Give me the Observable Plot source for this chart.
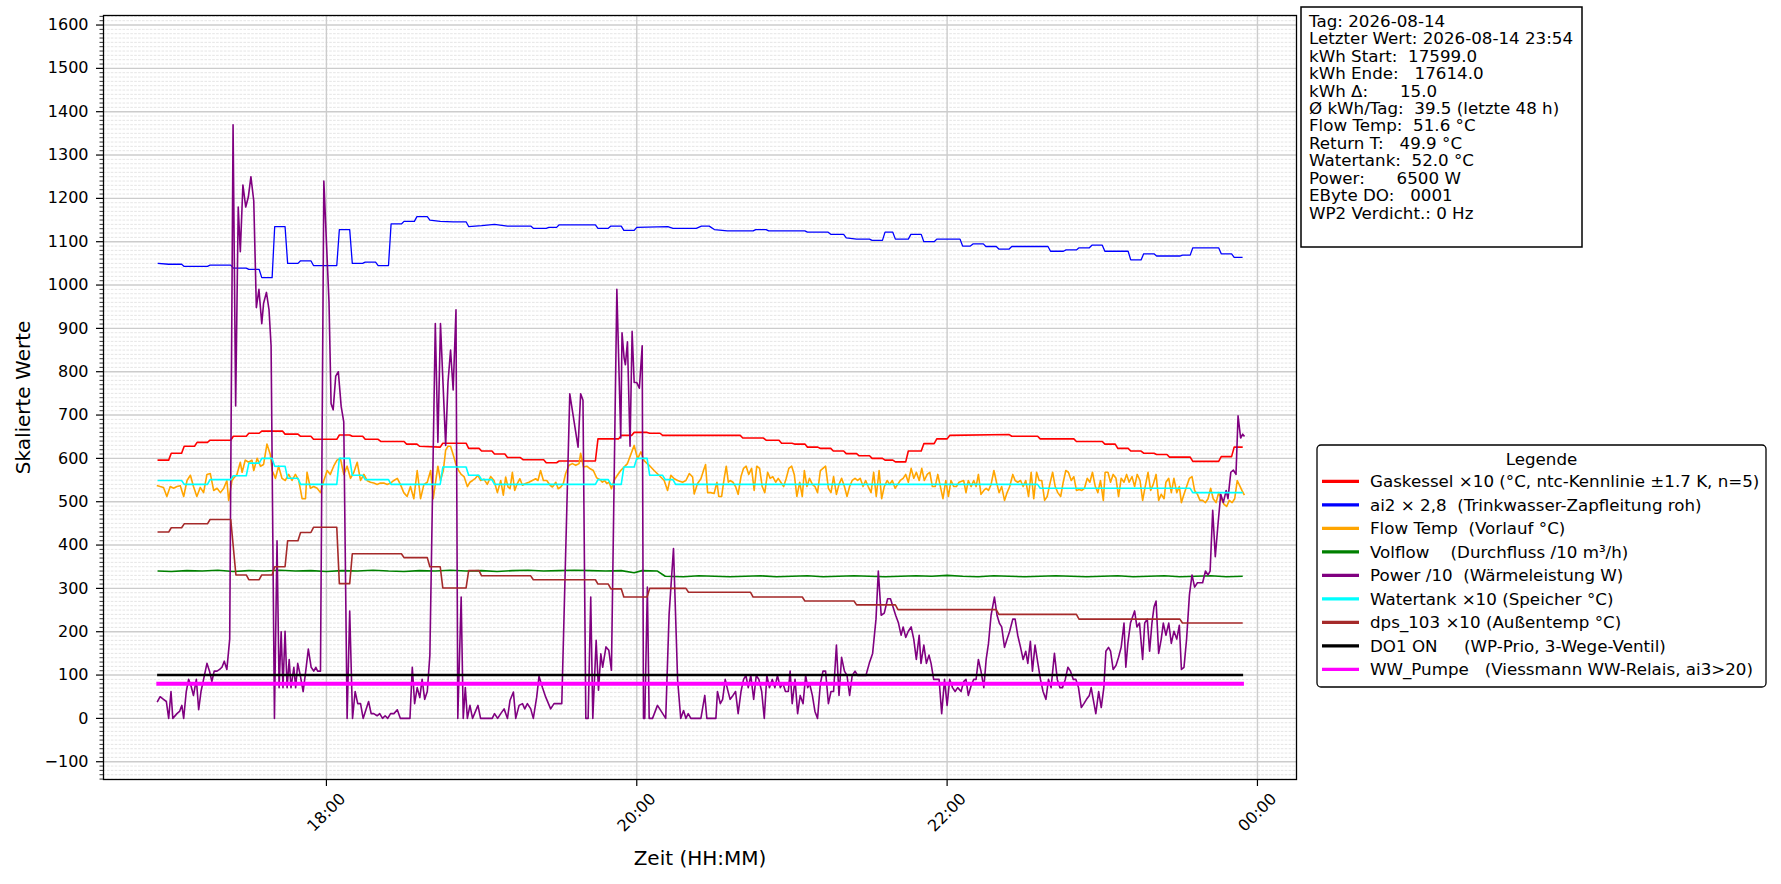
<!DOCTYPE html>
<html><head><meta charset="utf-8">
<script src="https://cdn.jsdelivr.net/npm/d3@7"></script>
<script src="https://cdn.jsdelivr.net/npm/@observablehq/plot@0.6"></script>
<style>
html,body{margin:0;padding:0;background:#fff;overflow:hidden;}
#chart{position:relative;width:1781px;height:884px;}
svg text{white-space:pre;}
</style></head><body><div id="chart"></div>
<script>
// time = minute of day (2026-08-14), value = scaled value
const gaskessel = [[1015,596],[1019,596],[1020,612],[1024,612],[1025,628],[1029,628],[1030,637],[1034,637],[1035,642],[1043,642],[1044,651],[1049,651],[1050,658],[1054,658],[1055,663],[1063,663],[1064,656],[1069,656],[1070,651],[1074,651],[1075,644],[1084,644],[1085,654],[1089,654],[1090,651],[1094,651],[1095,644],[1100,644],[1101,639],[1110,639],[1111,633],[1115,633],[1116,628],[1124,626],[1125,635],[1134,635],[1135,623],[1139,623],[1140,617],[1144,617],[1145,610],[1149,610],[1150,602],[1155,602],[1156,597],[1164,597],[1165,590],[1169,590],[1170,594],[1184,594],[1185,645],[1193,645],[1194,653],[1198,653],[1199,660],[1204,660],[1205,658],[1209,658],[1210,653],[1240,653],[1241,647],[1249,647],[1250,642],[1255,642],[1256,635],[1260,635],[1261,633],[1265,633],[1266,626],[1270,626],[1271,623],[1275,623],[1276,617],[1280,617],[1281,611],[1285,611],[1286,606],[1290,606],[1291,600],[1295,600],[1296,596],[1299,596],[1300,592],[1304,592],[1305,617],[1310,617],[1311,634],[1315,634],[1316,645],[1320,645],[1321,653],[1344,655],[1345,651],[1355,651],[1356,645],[1369,645],[1370,639],[1380,639],[1381,633],[1385,633],[1386,623],[1390,623],[1391,617],[1395,617],[1396,612],[1400,612],[1401,609],[1405,609],[1406,603],[1414,603],[1415,593],[1425,593],[1426,604],[1430,604],[1431,626],[1434,626]];

const ai2 = [[1015,1050],[1019,1048],[1024,1048],[1025,1043],[1034,1043],[1035,1046],[1043,1046],[1044,1039],[1049,1039],[1050,1036],[1054,1036],[1055,1017],[1059,1017],[1060,1135],[1064,1135],[1065,1050],[1069,1050],[1070,1056],[1074,1056],[1075,1045],[1084,1045],[1085,1128],[1089,1128],[1090,1050],[1094,1050],[1095,1053],[1099,1053],[1100,1045],[1104,1045],[1105,1141],[1109,1141],[1110,1147],[1114,1147],[1115,1158],[1119,1158],[1120,1150],[1124,1147],[1129,1146],[1134,1146],[1135,1135],[1140,1137],[1145,1140],[1150,1136],[1159,1136],[1160,1131],[1165,1131],[1166,1133],[1169,1133],[1170,1139],[1184,1139],[1185,1131],[1189,1131],[1190,1136],[1194,1136],[1195,1126],[1199,1126],[1200,1133],[1212,1135],[1214,1131],[1223,1131],[1225,1136],[1228,1136],[1230,1128],[1235,1125],[1245,1125],[1246,1128],[1250,1128],[1251,1125],[1265,1125],[1266,1122],[1274,1122],[1275,1117],[1280,1117],[1281,1109],[1285,1106],[1290,1106],[1291,1103],[1295,1103],[1296,1122],[1299,1122],[1300,1106],[1305,1106],[1306,1117],[1310,1117],[1311,1100],[1315,1100],[1316,1106],[1325,1106],[1326,1090],[1329,1090],[1330,1095],[1334,1095],[1335,1089],[1339,1089],[1340,1083],[1344,1083],[1345,1089],[1359,1089],[1360,1078],[1365,1078],[1366,1081],[1370,1081],[1371,1086],[1375,1086],[1376,1092],[1380,1092],[1381,1078],[1390,1078],[1391,1058],[1395,1058],[1396,1072],[1400,1072],[1401,1067],[1410,1067],[1411,1069],[1414,1069],[1415,1086],[1425,1086],[1426,1072],[1430,1072],[1431,1064],[1434,1064]];

const flowTemp = [[1014.7,537],[1015.7,535],[1017.0,533],[1018.3,512],[1019.6,535],[1020.9,531],[1022.2,535],[1023.5,537],[1024.8,512],[1026.1,549],[1027.4,561],[1028.6,535],[1029.9,512],[1031.2,533],[1032.5,521],[1033.8,563],[1035.1,565],[1036.4,526],[1037.7,531],[1039.0,521],[1040.3,531],[1041.5,549],[1042.2,503],[1043.5,549],[1044.1,554],[1045.4,563],[1046.7,591],[1047.4,568],[1048.6,596],[1049.9,591],[1051.2,596],[1051.9,572],[1053.2,600],[1054.5,582],[1055.7,586],[1057.0,633],[1058.3,609],[1059.0,572],[1060.3,554],[1061.5,582],[1062.8,554],[1064.1,549],[1065.4,563],[1066.7,549],[1068.0,563],[1069.3,549],[1070.6,507],[1071.9,507],[1072.5,568],[1073.8,531],[1075.1,535],[1076.4,531],[1077.7,521],[1079.0,549],[1080.3,572],[1081.5,563],[1082.8,582],[1084.1,596],[1085.4,600],[1086.7,563],[1088.0,582],[1089.3,554],[1090.6,568],[1091.9,591],[1093.2,549],[1094.5,563],[1095.7,549],[1097.0,545],[1098.3,543],[1099.6,540],[1100.9,543],[1102.2,543],[1103.5,540],[1104.8,543],[1106.1,549],[1107.4,554],[1108.6,540],[1109.9,521],[1111.2,512],[1112.5,535],[1113.8,507],[1115.1,572],[1116.4,507],[1117.7,540],[1119.0,545],[1120.3,572],
[1121.3,507],[1122.2,545],[1123.1,582],[1124.1,549],[1125.2,572],[1126.1,619],[1127.0,628],[1128.0,628],[1129.0,609],[1130.1,586],[1131.1,572],[1132.1,563],[1133.2,558],[1134.5,535],[1135.5,545],[1136.5,549],[1137.6,554],[1138.6,561],[1139.6,549],[1140.9,552],[1142.2,540],[1143.5,558],[1144.8,549],[1146.1,521],
[1147.4,549],[1148.4,515],[1149.3,557],[1150.2,534],[1151.0,530],[1151.9,568],[1152.8,526],[1153.8,542],[1154.8,553],[1155.8,538],[1157.0,542],[1158.3,545],[1159.6,549],[1160.9,553],[1161.8,549],[1162.8,572],[1163.9,549],[1165.2,549],[1166.5,538],[1167.4,534],[1168.7,545],[1169.6,530],[1170.6,534],[1171.6,542],[1172.5,565],[1173.8,584],[1175.1,588],[1176.4,584],[1177.7,588],[1178.3,612],[1179.4,580],[1180.7,582],[1182.0,576],[1183.2,572],[1184.5,555],[1185.8,551],[1186.7,545],[1187.6,549],[1188.4,542],[1189.3,545],[1190.2,530],[1191.2,549],[1192.5,561],[1193.8,572],[1196.4,588],[1199.0,630],[1200.3,599],[1201.6,615],[1202.8,595],[1204.8,584],[1206.7,572],[1208.6,561],[1210.6,549],[1211.9,526],[1213.2,561],[1214.5,553],[1215.8,549],[1217.7,545],[1219.0,549],[1220.3,565],[1221.6,557],[1222.2,518],[1223.5,542],[1224.8,553],
[1225.8,572],[1226.6,586],[1227.4,521],[1228.6,521],[1229.9,519],[1231.0,545],[1231.7,512],[1232.8,512],[1233.8,554],[1234.6,582],[1235.4,545],[1236.1,549],[1237.2,545],[1238.2,535],[1239.2,517],[1240.3,558],[1241.3,577],[1242.3,582],[1243.3,563],[1244.4,577],[1245.4,526],[1246.4,582],[1247.5,577],[1248.5,535],[1249.5,521],[1250.6,568],[1251.6,554],[1252.6,558],[1253.7,545],[1254.7,554],[1255.7,545],[1256.8,535],[1257.8,554],[1258.8,577],[1259.9,582],[1260.9,563],[1261.9,512],[1263.0,545],[1264.0,512],[1264.8,572],[1265.8,535],[1266.8,554],[1267.9,540],[1268.9,535],[1269.9,521],[1271.0,572],[1272.0,577],[1273.0,582],[1274.1,531],[1275.1,521],[1276.1,558],[1277.2,517],[1278.2,540],[1279.2,554],[1280.3,535],[1281.3,512],[1282.3,535],[1283.3,549],[1284.4,554],[1285.4,549],[1286.4,554],[1287.5,535],[1288.5,549],[1289.5,535],[1290.6,521],[1291.6,568],[1292.6,512],[1293.7,572],[1294.7,507],[1295.7,535],[1296.8,549],[1297.8,540],[1298.8,549],[1299.9,531],[1300.9,540],[1301.9,549],[1303.0,554],[1304.0,563],[1305.0,545],[1306.1,577],[1307.1,554],[1308.1,568],[1309.2,549],[1310.2,577],[1311.2,549],[1312.3,563],[1313.3,568],[1314.3,535],[1315.4,535],[1316.4,563],[1317.4,535],[1318.4,507],[1319.5,549],[1320.5,512],[1321.5,549],[1322.6,535],[1323.6,535],[1324.6,545],
[1326.4,549],[1327.3,521],[1328.2,549],[1329.3,535],[1330.3,549],[1331.2,535],[1332.1,563],[1333.1,517],[1334.2,526],[1335.1,531],[1336.0,526],[1337.0,540],[1338.1,572],[1339.1,545],[1340.1,521],[1341.1,535],[1342.2,503],[1343.2,521],[1344.2,535],[1345.4,563],[1346.3,549],[1347.3,545],[1348.4,549],[1349.4,535],[1350.4,549],[1351.5,512],[1352.5,568],[1353.5,507],[1354.6,568],[1355.6,549],[1356.6,549],[1357.7,503],[1358.7,512],[1359.7,540],[1360.8,568],[1361.8,535],[1362.8,521],[1363.9,512],[1364.9,545],[1365.9,572],[1366.9,568],[1368.0,549],[1369.0,558],[1370.0,526],[1371.1,528],[1372.1,526],[1373.1,531],[1374.2,554],[1375.2,545],[1376.2,568],[1377.3,535],[1378.3,521],[1379.3,549],[1380.4,503],[1381.1,568],[1382.2,568],[1383.2,545],[1384.2,563],[1385.3,554],[1386.3,512],[1387.3,554],[1388.4,545],[1389.4,563],[1390.4,545],[1391.5,558],[1392.5,535],[1393.5,563],[1394.6,549],[1395.6,503],[1396.6,535],[1397.7,568],[1398.7,526],[1399.7,540],[1400.8,563],[1401.8,503],[1402.8,517],[1403.9,507],[1404.6,545],[1405.7,554],[1406.7,521],[1407.7,554],[1408.8,521],[1409.8,535],[1410.6,498],[1411.6,517],[1412.6,535],[1413.7,554],[1414.7,558],[1415.7,526],[1416.8,517],[1417.8,503],[1418.8,503],[1419.9,498],[1420.9,507],[1421.9,531],[1422.9,507],[1424.0,498],[1425.0,521],[1426.0,507],[1427.1,494],[1428.1,489],[1429.1,503],[1430.2,498],[1431.2,507],[1432.2,549],[1433.3,535],[1434.0,526],[1434.8,517]];

const volflow = [[1015,340],[1020,339],[1026,341],[1032,340],[1038,342],[1044,339],[1050,341],[1056,340],[1062,342],[1068,340],[1074,341],[1080,339],[1086,341],[1092,340],[1098,342],[1104,340],[1110,339],[1116,341],[1122,340],[1128,342],[1134,340],[1140,341],[1146,339],[1152,341],[1158,342],[1164,340],[1170,341],[1176,342],[1182,341],[1188,340],[1194,341],[1199,336],[1202,341],[1208,340],[1211,328],[1218,327],[1224,329],[1230,328],[1236,327],[1242,328],[1248,329],[1254,327],[1260,328],[1266,329],[1272,327],[1278,328],[1284,329],[1290,328],[1296,327],[1302,328],[1308,329],[1314,328],[1320,330],[1326,328],[1332,327],[1338,329],[1344,328],[1350,327],[1356,328],[1362,329],[1368,328],[1374,327],[1380,328],[1386,329],[1392,327],[1398,328],[1404,329],[1410,327],[1416,328],[1422,329],[1428,327],[1434,328]];

const power = [[1014.7,39],[1015.7,50],[1017.0,44],[1018.1,39],[1019.0,0],[1019.9,62],[1020.6,0],[1022.2,11],[1023.2,16],[1024.1,30],[1024.8,0],[1025.8,62],[1026.7,90],[1027.6,76],[1028.6,53],[1029.7,90],[1030.6,20],[1031.5,62],[1032.5,90],[1033.8,127],[1034.8,109],[1035.7,85],[1036.6,109],[1037.7,109],[1038.7,113],[1039.6,118],[1040.5,132],[1041.5,113],[1042.6,183],[1043.9,1370],[1044.9,721],[1045.9,1180],[1046.7,1077],[1047.7,1231],[1048.8,1180],[1049.8,1203],[1050.8,1250],[1051.9,1194],[1052.9,948],[1053.9,990],[1055.0,911],[1055.7,958],[1056.8,983],[1057.8,943],[1058.6,860],[1059.9,0],[1060.9,410],[1061.7,71],[1062.5,200],[1063.2,71],[1064.0,201],[1064.8,71],[1065.6,136],[1066.3,71],[1067.4,118],[1068.1,71],[1068.9,127],[1069.9,99],[1071.0,62],[1072.0,109],[1073.0,160],[1074.1,118],[1075.1,109],[1075.9,118],[1076.6,109],[1077.7,109],[1079.0,1240],[1080.0,1100],[1081.0,960],[1081.8,726],[1082.6,712],[1083.6,790],[1084.6,800],[1085.7,720],[1086.7,684],[1088.0,0],[1089.0,248],[1090.1,0],[1091.1,62],[1092.1,34],[1093.2,34],[1094.2,0],[1096.3,39],[1097.3,11],[1098.3,11],[1099.6,6],[1100.6,11],[1101.7,0],[1102.7,6],[1103.7,0],[1104.8,11],[1106.1,11],[1107.4,20],[1108.6,0],[1112.3,0],[1113.2,118],[1114.1,34],[1115.1,71],[1116.1,48],[1117.0,90],[1118.0,44],[1119.0,62],[1120.0,146],
[1122.1,911],[1123.1,637],[1124.1,911],[1126.1,630],[1127.0,775],[1128.0,850],[1129.0,758],[1130.1,943],[1130.8,0],[1132.1,280],[1132.9,0],[1133.7,71],[1134.5,0],[1135.5,30],[1136.5,0],[1138.6,30],[1139.6,0],[1144.1,0],[1145.0,11],[1146.2,0],[1147.4,11],[1148.7,22],[1150.0,0],[1151.0,42],[1152.3,61],[1153.2,0],[1154.5,30],[1155.8,34],[1156.7,22],[1157.7,34],[1159.0,22],[1160.0,0],[1161.3,49],[1162.2,97],[1163.5,72],[1164.8,49],[1166.7,22],[1168.0,34],[1170.0,34],[1171.0,34],[1174.1,749],[1177.3,626],[1178.3,749],[1179.2,734],[1180.3,0],[1181.2,0],[1182.2,280],[1183.0,0],[1184.3,180],[1185.2,65],[1186.1,149],[1186.8,118],[1188.1,165],[1189.2,157],[1190.2,111],[1192.3,990],[1193.8,647],[1194.3,890],[1195.1,832],[1195.6,816],[1196.4,869],[1197.4,628],[1198.2,893],[1199.0,775],[1200.0,775],[1201.0,762],[1202.1,860],[1202.6,0],[1203.1,0],[1204.1,303],[1204.8,0],[1206.1,0],[1208.0,30],[1209.3,18],[1211.2,0],[1212.5,240],[1214.2,392],[1215.8,88],[1217.0,0],[1218.1,18],[1219.0,0],[1219.9,11],[1220.9,0],[1224.8,0],
[1226.3,53],[1227.1,0],[1230.6,0],[1231.2,62],[1232.3,34],[1233.2,44],[1234.2,90],[1235.1,67],[1236.1,44],[1237.2,53],[1238.2,62],[1239.2,11],[1240.3,62],[1241.3,90],[1242.2,99],[1243.1,71],[1244.1,99],[1245.2,44],[1246.2,99],[1247.2,90],[1248.3,62],[1249.3,0],[1250.3,99],[1251.3,71],[1252.4,90],[1253.4,71],[1254.4,99],[1255.5,71],[1256.5,81],[1257.5,62],[1258.6,62],[1259.3,109],[1260.1,34],[1261.2,90],[1262.2,11],[1263.2,53],[1264.3,34],[1265.3,99],[1266.1,71],[1266.8,81],[1267.9,53],[1268.9,16],[1269.9,0],[1271.0,81],[1272.0,109],[1273.0,109],[1274.1,34],[1275.1,62],[1276.1,62],[1277.2,169],[1278.2,53],[1279.2,141],[1280.3,109],[1281.3,99],[1282.3,53],[1283.3,99],[1284.4,109],[1285.4,99],[1286.4,99],[1288.6,99],[1289.9,127],[1291.2,150],[1292.5,229],[1293.4,340],[1294.5,238],[1295.7,243],[1297.0,276],[1298.1,276],[1299.1,257],[1300.1,238],[1301.2,220],[1302.2,192],[1303.0,211],[1304.0,187],[1305.0,201],[1306.1,211],[1307.1,183],[1308.1,136],[1309.2,192],[1309.9,127],[1311.0,169],[1312.0,127],[1313.0,146],[1313.8,127],[1314.8,90],[1315.9,90],[1316.9,90],[1317.9,11],[1319.0,90],[1320.0,30],[1321.0,90],[1322.1,71],[1323.1,62],[1324.1,71],
[1325.4,62],[1326.4,85],[1327.3,90],[1328.2,53],[1329.3,76],[1330.3,90],[1331.2,90],[1332.1,136],[1333.1,109],[1334.2,71],[1335.1,136],[1336.0,173],[1337.0,238],[1338.3,280],[1339.3,238],[1340.2,220],[1341.1,211],[1342.2,164],[1343.2,183],[1344.2,201],[1345.4,229],[1346.3,229],[1347.3,192],[1348.4,164],[1349.4,136],[1350.4,155],[1351.2,127],[1352.2,178],[1353.0,109],[1354.0,169],[1355.1,127],[1356.1,90],[1357.1,62],[1358.2,44],[1359.2,90],[1360.2,71],[1361.5,150],[1362.6,90],[1363.6,71],[1364.6,71],[1365.7,90],[1366.7,118],[1367.7,109],[1368.8,90],[1369.8,90],[1370.8,71],[1371.9,25],[1372.9,34],[1373.9,44],[1375.0,53],[1375.7,71],[1376.5,44],[1377.5,11],[1378.6,62],[1379.6,25],[1380.6,71],[1381.4,155],[1382.4,164],[1383.2,155],[1384.2,113],[1385.3,122],[1386.3,141],[1387.3,164],[1388.4,220],[1389.1,118],[1389.9,173],[1390.9,220],[1391.7,234],[1392.5,248],[1393.4,211],[1394.4,220],[1395.6,136],[1396.4,220],[1397.4,229],[1398.3,155],[1399.2,220],[1400.0,257],[1400.8,271],[1401.8,150],[1402.8,183],[1403.6,220],[1404.6,192],[1405.7,220],[1406.7,173],[1407.7,201],[1408.8,183],[1409.8,215],[1410.6,113],[1411.6,118],[1412.6,183],[1413.7,285],[1414.7,331],[1415.7,303],[1416.8,313],[1417.8,313],[1418.8,313],[1419.9,340],[1420.9,331],[1421.7,340],[1422.7,480],[1423.7,373],[1424.8,452],[1425.8,517],[1426.8,498],[1427.9,526],[1428.6,507],[1429.7,568],[1430.7,573],[1431.7,563],[1432.5,698],[1433.5,647],[1434.3,656],[1434.8,652]];

const watertank = [[1015,549],[1024,549],[1025,540],[1034,540],[1035,551],[1043,551],[1044,560],[1049,560],[1050,589],[1054,589],[1055,600],[1059,600],[1060,582],[1064,582],[1065,554],[1069,554],[1070,540],[1084,540],[1085,600],[1089,600],[1090,561],[1094,561],[1095,551],[1104,551],[1105,540],[1124,540],[1125,580],[1134,580],[1135,561],[1139,561],[1140,551],[1144,551],[1145,540],[1184,540],[1185,551],[1189,551],[1190,540],[1194,540],[1195,580],[1199,580],[1200,600],[1204,600],[1205,561],[1210,561],[1211,551],[1214,551],[1215,540],[1355,540],[1356,531],[1414,531],[1415,521],[1434,521]];

const dps103 = [[1015,430],[1019,430],[1020,440],[1024,440],[1025,449],[1034,449],[1035,459],[1043,459],[1045,331],[1049,331],[1050,320],[1054,320],[1055,331],[1059,331],[1060,350],[1064,350],[1065,410],[1069,410],[1070,429],[1074,429],[1075,441],[1084,441],[1085,311],[1089,311],[1090,380],[1109,380],[1110,371],[1119,371],[1120,350],[1124,350],[1125,301],[1134,301],[1135,341],[1139,341],[1140,329],[1159,329],[1160,320],[1184,320],[1185,310],[1189,310],[1190,299],[1194,299],[1195,280],[1204,280],[1205,300],[1219,300],[1220,291],[1244,291],[1245,280],[1264,280],[1265,271],[1284,271],[1285,262],[1300,262],[1301,251],[1339,251],[1340,240],[1370,240],[1371,229],[1410,229],[1411,220],[1434,220]];

const do1On = [[1015,100],[1434,100]];
const wwPumpe = [[1015,80],[1434,80]];

const seriesNames = [
  "Gaskessel ×10 (°C, ntc-Kennlinie ±1.7 K, n=5)",
  "ai2 × 2,8  (Trinkwasser-Zapfleitung roh)",
  "Flow Temp  (Vorlauf °C)",
  "Volflow    (Durchfluss /10 m³/h)",
  "Power /10  (Wärmeleistung W)",
  "Watertank ×10 (Speicher °C)",
  "dps_103 ×10 (Außentemp °C)",
  "DO1 ON     (WP-Prio, 3-Wege-Ventil)",
  "WW_Pumpe   (Viessmann WW-Relais, ai3>20)"
];
const seriesColors = ["#ff0000","#0000ff","#ffa500","#008000","#800080","#00ffff","#a52a2a","#000000","#ff00ff"];
const seriesData = [gaskessel, ai2, flowTemp, volflow, power, watertank, dps103, do1On, wwPumpe];
const seriesWidths = [1.6, 1.3, 1.6, 1.6, 1.6, 1.6, 1.6, 2.4, 4];

const xTickMinutes = [1080, 1200, 1320, 1440];
const yMajor = d3.range(-100, 1601, 100);
const yMinor = d3.range(-140, 1621, 10).filter(v => v % 100 !== 0);
const xDomainMin = [993.8, 1455.1];
const yDomain = [-141, 1622];

const infoLines = [
  "Tag: 2026-08-14",
  "Letzter Wert: 2026-08-14 23:54",
  "kWh Start:  17599.0",
  "kWh Ende:   17614.0",
  "kWh Δ:      15.0",
  "Ø kWh/Tag:  39.5 (letzte 48 h)",
  "Flow Temp:  51.6 °C",
  "Return T:   49.9 °C",
  "Watertank:  52.0 °C",
  "Power:      6500 W",
  "EByte DO:   0001",
  "WP2 Verdicht.: 0 Hz"
];

const base = Date.UTC(2026, 7, 14, 0, 0, 0);
const toDate = m => new Date(base + m * 60000);
const fmtTime = d3.utcFormat("%H:%M");
const fmtY = v => v < 0 ? "\u2212" + Math.abs(v) : String(v);
const xTicks = xTickMinutes.map(toDate);

const lineMarks = seriesData.map((data, i) => Plot.line(data, {
  x: d => toDate(d[0]), y: d => d[1],
  stroke: seriesColors[i], strokeWidth: seriesWidths[i],
  strokeLinecap: "square", strokeLinejoin: "round"
}));

const chart = Plot.plot({
  width: 1781, height: 884,
  marginLeft: 103, marginRight: 485, marginTop: 15, marginBottom: 105,
  style: {fontFamily: "DejaVu Sans", background: "#fff", color: "#000"},
  x: {type: "utc", domain: xDomainMin.map(toDate)},
  y: {domain: yDomain},
  marks: [
    Plot.ruleY(yMinor, {stroke: "#dadada", strokeWidth: 0.7, strokeDasharray: "2.6,1.3"}),
    Plot.ruleY(yMajor, {stroke: "#cccccc", strokeWidth: 1.4}),
    Plot.ruleX(xTicks, {stroke: "#cccccc", strokeWidth: 1.4}),
    ...lineMarks,
    Plot.frame({stroke: "#000", strokeWidth: 1.3}),
    Plot.axisY({ticks: yMajor, tickSize: 7, tickPadding: 8, tickFormat: fmtY, fontSize: 16, strokeWidth: 1.2, label: null}),
    Plot.axisY({ticks: yMinor, tickSize: 3.5, tickFormat: () => "", strokeWidth: 0.8, label: null}),
    Plot.axisX({ticks: xTicks, tickSize: 7, tickFormat: () => "", strokeWidth: 1.2, label: null}),
    Plot.text(xTicks, {x: d => d, y: () => yDomain[0], text: d => fmtTime(d), rotate: -45, dy: 33,
      fontSize: 16, textAnchor: "middle", lineAnchor: "middle"}),
    Plot.text(["Skalierte Werte"], {frameAnchor: "left", dx: -80, rotate: -90, fontSize: 20,
      textAnchor: "middle", lineAnchor: "middle"}),
    Plot.text(["Zeit (HH:MM)"], {frameAnchor: "bottom", dy: 79, fontSize: 20,
      textAnchor: "middle", lineAnchor: "middle"})
  ]
});

document.getElementById("chart").appendChild(chart);
const svg = d3.select(chart);

// info box
const info = svg.append("g").attr("font-family", "DejaVu Sans").attr("font-size", 16.7).attr("text-anchor", "start");
info.append("rect").attr("x", 1301).attr("y", 7).attr("width", 281).attr("height", 240)
  .attr("fill", "#fff").attr("stroke", "#000").attr("stroke-width", 1.5);
info.selectAll("text.info").data(infoLines).join("text").attr("class", "info")
  .attr("x", 1309).attr("y", (d, i) => 26.7 + 17.45 * i).attr("fill", "#000")
  .attr("text-anchor", "start").style("white-space", "pre").text(d => d);

// legend
const leg = svg.append("g").attr("font-family", "DejaVu Sans").attr("font-size", 16.7).attr("text-anchor", "start");
leg.append("rect").attr("x", 1317).attr("y", 445).attr("width", 449).attr("height", 242)
  .attr("rx", 4).attr("fill", "#fff").attr("stroke", "#000").attr("stroke-width", 1.3);
leg.append("text").attr("x", 1541.5).attr("y", 464.5).attr("text-anchor", "middle").attr("fill", "#000").text("Legende");
seriesNames.forEach((name, i) => {
  const cy = 481.3 + 23.5 * i;
  leg.append("line").attr("x1", 1322).attr("x2", 1359).attr("y1", cy).attr("y2", cy)
    .attr("stroke", seriesColors[i]).attr("stroke-width", 3.3);
  leg.append("text").attr("x", 1370).attr("y", cy + 6).attr("fill", "#000")
    .attr("text-anchor", "start").style("white-space", "pre").text(name);
});
</script></body></html>
